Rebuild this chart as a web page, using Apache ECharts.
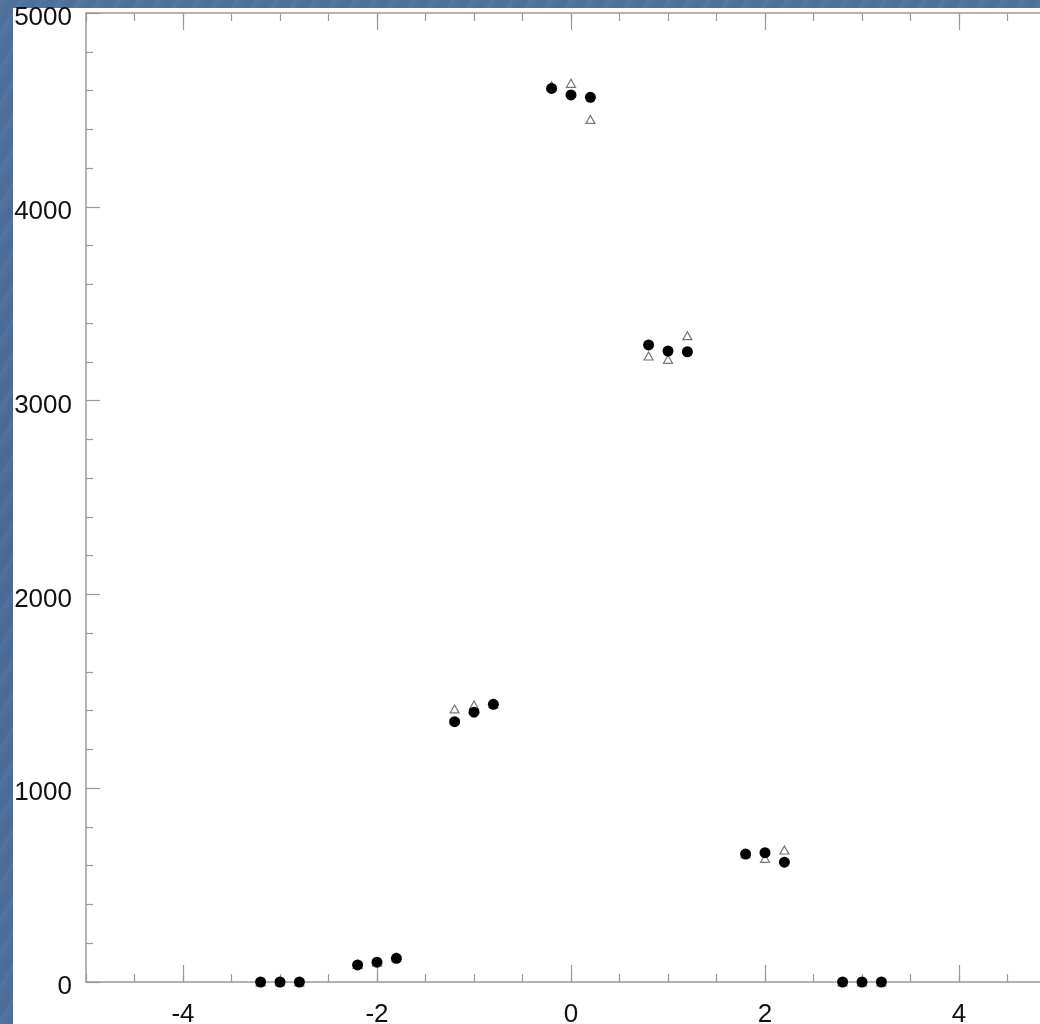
<!DOCTYPE html>
<html>
<head>
<meta charset="utf-8">
<script src="https://cdn.jsdelivr.net/npm/echarts@6/dist/echarts.min.js"></script>
<style>
  html, body { margin: 0; padding: 0; width: 1040px; height: 1024px; overflow: hidden; }
  body {
    background-color: #4b6e99;
    background-image:
      repeating-linear-gradient(120deg, rgba(255,255,255,0.04) 0px, rgba(255,255,255,0.0) 6px, rgba(0,0,0,0.03) 11px, rgba(255,255,255,0.0) 17px),
      linear-gradient(180deg, #4f729d 0%, #4a6c97 50%, #4d709b 100%);
  }
  #panel { position: absolute; left: 13px; top: 8px; width: 1100px; height: 1100px; background: #fff; }
  #chart { position: absolute; left: 0; top: 0; width: 1080px; height: 1024px; }
</style>
</head>
<body>
<div id="panel"></div>
<div id="chart"></div>
<script>
// Sample positions (three runs per group) and measured counts
const xPositions = [-3.2, -3, -2.8, -2.2, -2, -1.8, -1.2, -1, -0.8, -0.2, 0, 0.2, 0.8, 1, 1.2, 1.8, 2, 2.2, 2.8, 3, 3.2];
const measuredCounts = [0, 0, 0, 88, 102, 122, 1343, 1392, 1433, 4611, 4577, 4565, 3287, 3256, 3252, 660, 667, 618, 0, 0, 0];
const modelCounts    = [0, 0, 0, 90, 104, 128, 1409, 1429, 1436, 4625, 4637, 4451, 3230, 3213, 3335, 662, 638, 681, 0, 0, 0];

const xMajorTicks = [-4, -2, 0, 2, 4];
const yTicks = [0, 1000, 2000, 3000, 4000, 5000];

const axisGrey = '#9a9a9a';
const fontFamily = '"Liberation Sans", Arial, Helvetica, sans-serif';

function pairs(xs, ys) { return xs.map((x, i) => [x, ys[i]]); }

function xAxisPair(position, withLabels) {
  const minorAxis = {
    type: 'value', position: position, min: -5, max: 5, interval: 0.5,
    axisLine: { show: true, onZero: false, lineStyle: { color: axisGrey, width: 1.5 } },
    axisTick: { show: true, inside: true, length: 8, lineStyle: { color: axisGrey, width: 1.2 } },
    axisLabel: withLabels ? {
      show: true, customValues: xMajorTicks, margin: 20,
      formatter: v => String(v),
      color: '#111', fontSize: 26, fontFamily: fontFamily
    } : { show: false },
    splitLine: { show: false }
  };
  const majorAxis = {
    type: 'value', position: position, min: -5, max: 5, interval: 0.5,
    axisLine: { show: false, onZero: false },
    axisTick: { show: true, inside: true, length: 17, customValues: xMajorTicks, lineStyle: { color: axisGrey, width: 1.2 } },
    axisLabel: { show: false },
    splitLine: { show: false }
  };
  return [minorAxis, majorAxis];
}

function yAxis(position, withLabels) {
  return {
    type: 'value', position: position, min: 0, max: 5000, interval: 1000,
    axisLine: { show: true, onZero: false, lineStyle: { color: axisGrey, width: 1.5 } },
    axisTick: { show: true, inside: true, length: 14, lineStyle: { color: axisGrey, width: 1.2 } },
    minorTick: { show: true, splitNumber: 5, length: 7, lineStyle: { color: axisGrey, width: 1.2 } },
    axisLabel: withLabels ? {
      show: true, customValues: yTicks, margin: 14,
      formatter: v => '{n|' + v + '}',
      rich: { n: { color: '#111', fontSize: 26, fontFamily: fontFamily, padding: [10, 0, 0, 0] } }
    } : { show: false },
    splitLine: { show: false }
  };
}

const chart = echarts.init(document.getElementById('chart'), null, { renderer: 'canvas' });
chart.setOption({
  animation: false,
  backgroundColor: 'transparent',
  grid: { left: 86, right: 24, top: 13, bottom: 42, containLabel: false, outerBoundsMode: 'none' },
  xAxis: [].concat(xAxisPair('bottom', true), xAxisPair('top', false)),
  yAxis: [yAxis('left', true), yAxis('right', false)],
  series: [
    {
      name: 'model', type: 'scatter', xAxisIndex: 0, yAxisIndex: 0,
      symbol: 'triangle', symbolSize: [9, 8],
      itemStyle: { color: '#ffffff', borderColor: '#555', borderWidth: 1.2 },
      data: pairs(xPositions, modelCounts), z: 3
    },
    {
      name: 'measured', type: 'scatter', xAxisIndex: 0, yAxisIndex: 0,
      symbol: 'circle', symbolSize: 11,
      itemStyle: { color: '#000000', opacity: 1 },
      data: pairs(xPositions, measuredCounts), z: 4
    }
  ]
});
</script>
</body>
</html>
